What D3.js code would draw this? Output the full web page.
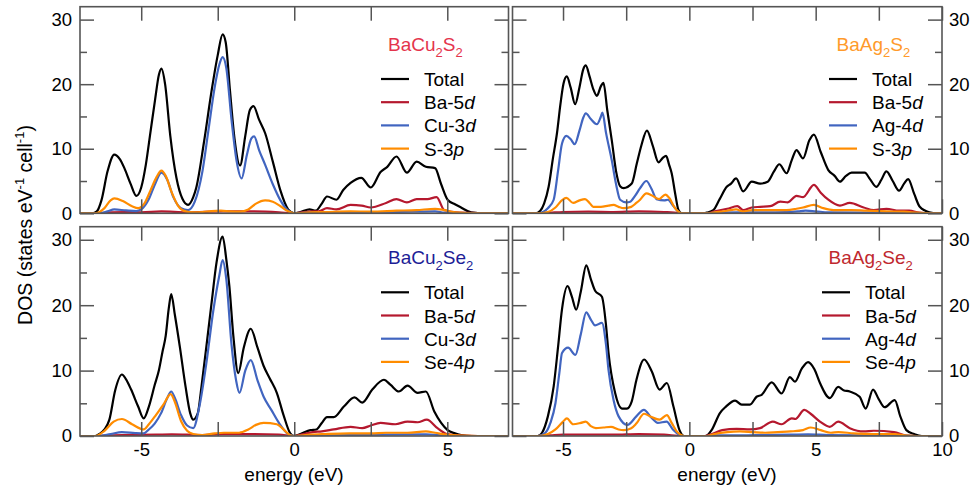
<!DOCTYPE html>
<html><head><meta charset="utf-8">
<script src="https://cdn.jsdelivr.net/npm/d3@7"></script>
<style>
html,body{margin:0;padding:0;background:#fff;}
text{font-family:"Liberation Sans",Arial,Helvetica,sans-serif;}
</style></head>
<body><svg id="chart" width="974" height="488"></svg>
<script>
// ---------- data (energy eV, DOS states/eV/cell) ----------
const seriesNames = ["Total","Ba-5d","TM-d","X-p"];
const seriesColors = ["#000000","#b5182e","#4165c0","#ff8c00"];
const panelTitles = ["BaCu2S2","BaAg2S2","BaCu2Se2","BaAg2Se2"];
const titleColors = ["#e4344c","#ff9a2a","#1d1d96","#c0282e"];
const legendLabels = [
  ["Total","Ba-5","Cu-3","S-3"],
  ["Total","Ba-5","Ag-4","S-3"],
  ["Total","Ba-5","Cu-3","Se-4"],
  ["Total","Ba-5","Ag-4","Se-4"]];
const legendItalics = ["","d","d","p"];
const xTicksLeft = [-5,-2.5,0,2.5,5];
const xTicksRight = [-5,-2.5,0,2.5,5,7.5,10];
const yMajor = [0,10,20,30];
const yMinor = [5,15,25];

// BaCu2S2
const cuS_total = [[-7,0],[-6.6,0],[-6.45,0.3],[-6.3,2.0],[-6.1,6.5],[-5.88,9.1],[-5.7,8.4],[-5.55,7.0],[-5.35,4.6],[-5.16,2.7],[-5.0,4.0],[-4.85,7.5],[-4.7,12.5],[-4.55,17.5],[-4.42,21.5],[-4.34,22.4],[-4.22,20],[-4.05,12],[-3.85,5.5],[-3.65,2.2],[-3.47,1.3],[-3.3,2.5],[-3.2,4],[-2.95,11],[-2.7,19],[-2.5,24.5],[-2.34,27.7],[-2.24,26.5],[-2.1,19],[-1.95,11.5],[-1.77,7.4],[-1.6,12],[-1.45,16],[-1.33,16.6],[-1.15,14.5],[-0.95,12.4],[-0.7,8],[-0.45,3.5],[-0.2,0.6],[0,0],[0.2,0.2],[0.5,0.6],[0.7,0.4],[0.9,1.5],[1.07,2.6],[1.38,2.1],[1.6,3.6],[1.84,4.7],[2.19,5.5],[2.5,4.0],[2.82,6.4],[3.04,7.2],[3.34,8.8],[3.68,6.3],[4.0,8.0],[4.3,7.2],[4.6,7.0],[4.8,4.5],[5.01,2.1],[5.25,1.4],[5.45,0.9],[5.78,0.15],[6.2,0],[7,0]];
const cuS_ba = [[-7,0],[-6.4,0],[-6.0,0.15],[-5.5,0.2],[-5.0,0.15],[-4.34,0.3],[-3.5,0.15],[-2.34,0.3],[-1.5,0.3],[-0.5,0.15],[0,0],[0.3,0.2],[0.6,0.3],[0.8,0.3],[1.07,0.8],[1.38,0.6],[1.84,1.3],[2.2,1.2],[2.5,0.9],[3.0,1.6],[3.34,2.2],[3.68,1.7],[4.0,2.2],[4.35,2.2],[4.65,2.5],[4.9,0.5],[5.3,0.15],[6,0.05],[7,0]];
const cuS_tm = [[-7,0],[-6.4,0],[-6.1,0.3],[-5.88,0.6],[-5.5,0.45],[-5.16,0.35],[-4.95,0.8],[-4.75,2.2],[-4.55,4.5],[-4.34,6.3],[-4.15,5.2],[-3.95,2.5],[-3.7,0.8],[-3.47,0.5],[-3.25,1.8],[-3.0,6.5],[-2.8,13],[-2.6,19.5],[-2.45,23],[-2.34,24.2],[-2.22,22.5],[-2.05,14.5],[-1.88,8],[-1.72,5.4],[-1.55,9.0],[-1.4,11.6],[-1.31,11.9],[-1.15,9.8],[-0.95,7.5],[-0.7,4.5],[-0.45,2.0],[-0.2,0.4],[0,0],[0.5,0.1],[1.0,0.15],[2,0.2],[3,0.2],[4.0,0.25],[4.6,0.3],[4.9,0.1],[5.5,0],[7,0]];
const cuS_x = [[-7,0],[-6.5,0],[-6.2,0.8],[-6.0,2.0],[-5.88,2.3],[-5.6,1.9],[-5.3,1.1],[-5.1,0.8],[-4.9,1.5],[-4.7,3.5],[-4.5,5.6],[-4.34,6.6],[-4.2,5.8],[-4.0,3.2],[-3.8,1.2],[-3.55,0.3],[-3.3,0.15],[-3.0,0.2],[-2.7,0.35],[-2.4,0.4],[-2.1,0.3],[-1.77,0.25],[-1.5,0.6],[-1.25,1.5],[-0.95,2.0],[-0.7,1.8],[-0.45,1.1],[-0.2,0.3],[0,0],[0.5,0.15],[1.0,0.2],[1.84,0.3],[2.5,0.25],[3.34,0.4],[4.0,0.5],[4.6,0.7],[4.9,0.5],[5.2,0.2],[5.6,0.05],[6,0],[7,0]];

// BaAg2S2
const agS_total = [[-7,0],[-6.1,0],[-5.9,0.4],[-5.75,1.5],[-5.57,4.1],[-5.4,8.5],[-5.24,12.4],[-5.1,17],[-4.98,20.1],[-4.85,21.2],[-4.7,19.5],[-4.52,16.9],[-4.35,19.5],[-4.2,22.3],[-4.1,22.9],[-3.95,21.2],[-3.8,19.2],[-3.66,18.2],[-3.5,19.7],[-3.4,20.2],[-3.25,16],[-3.07,11.3],[-2.9,6.5],[-2.74,4.2],[-2.6,3.9],[-2.28,4.6],[-2.08,7.7],[-1.9,10.5],[-1.68,12.8],[-1.45,10.5],[-1.22,7.9],[-1.05,8.6],[-0.92,8.9],[-0.8,7.5],[-0.7,6.2],[-0.55,2.8],[-0.43,0.5],[-0.3,0],[0.6,0],[0.69,0.1],[0.95,0.5],[1.2,2.2],[1.48,4.1],[1.65,4.6],[1.85,5.4],[2.13,3.4],[2.47,4.9],[2.8,4.6],[3.1,4.9],[3.35,6.5],[3.56,7.6],[3.85,6.2],[4.05,8.2],[4.24,9.8],[4.5,8.5],[4.75,11.3],[4.93,12.2],[5.2,9.5],[5.5,6.7],[5.75,5.8],[5.96,4.9],[6.2,5.8],[6.42,6.3],[6.94,6.3],[7.15,5.3],[7.4,4.1],[7.6,5.2],[7.8,6.5],[8.05,5.0],[8.3,3.5],[8.5,4.6],[8.66,5.3],[8.9,3.0],[9.12,1.0],[9.5,0.15],[9.8,0],[10,0]];
const agS_ba = [[-7,0],[-6,0],[-5.5,0.1],[-5,0.2],[-4,0.25],[-3,0.2],[-2,0.3],[-1,0.2],[-0.4,0.05],[-0.3,0],[0.7,0],[1.0,0.3],[1.5,0.7],[1.9,1.1],[2.13,0.5],[2.47,0.9],[2.8,1.0],[3.2,1.1],[3.6,1.8],[3.9,1.7],[4.24,2.7],[4.5,2.5],[4.93,4.4],[5.2,3.2],[5.5,2.1],[5.96,1.2],[6.35,1.6],[6.9,0.9],[7.3,0.5],[7.8,0.7],[8.3,0.4],[8.7,0.4],[9.1,0.1],[9.5,0],[10,0]];
const agS_tm = [[-7,0],[-6.0,0],[-5.8,0.2],[-5.6,0.8],[-5.37,2.1],[-5.2,6.5],[-5.04,10.8],[-4.87,12.0],[-4.7,11.5],[-4.54,10.7],[-4.35,12.8],[-4.2,14.8],[-4.1,15.5],[-3.9,14.6],[-3.66,13.8],[-3.5,15.0],[-3.44,15.6],[-3.3,12.5],[-3.07,8.2],[-2.9,4.5],[-2.74,2.1],[-2.5,1.7],[-2.34,1.8],[-2.15,2.7],[-1.95,3.9],[-1.7,5.0],[-1.5,3.8],[-1.3,2.2],[-1.0,2.0],[-0.85,2.1],[-0.65,1.2],[-0.45,0.3],[-0.3,0],[0.7,0],[1.0,0.1],[2,0.15],[3,0.15],[3.8,0.2],[4.3,0.3],[4.6,0.4],[5.0,0.3],[5.5,0.15],[7,0.1],[8.5,0.05],[9.2,0],[10,0]];
const agS_x = [[-7,0],[-6.0,0],[-5.6,0.2],[-5.3,0.9],[-5.05,2.0],[-4.87,2.4],[-4.6,1.6],[-4.35,2.0],[-4.13,2.2],[-3.95,1.6],[-3.8,1.0],[-3.5,1.0],[-3.2,1.2],[-3.0,1.3],[-2.8,1.0],[-2.6,0.8],[-2.3,1.0],[-2.1,1.6],[-1.95,2.1],[-1.7,3.1],[-1.5,2.8],[-1.2,2.2],[-0.95,2.9],[-0.8,2.4],[-0.6,1.0],[-0.45,0.3],[-0.3,0],[0.7,0],[1.0,0.15],[1.5,0.4],[1.85,0.6],[2.13,0.3],[2.5,0.5],[3.0,0.5],[3.5,0.5],[3.85,0.5],[4.24,0.7],[4.5,0.9],[4.93,1.3],[5.3,0.8],[5.7,0.5],[6.4,0.5],[7,0.4],[7.8,0.3],[8.5,0.25],[9,0.1],[9.5,0],[10,0]];

// BaCu2Se2
const cuSe_total = [[-7,0],[-6.5,0],[-6.37,0.3],[-6.2,1.0],[-6.04,2.5],[-5.85,7.0],[-5.63,9.4],[-5.5,8.7],[-5.33,7.1],[-5.1,4.5],[-4.92,2.7],[-4.75,4.5],[-4.56,7.8],[-4.42,10.1],[-4.3,13],[-4.2,15.3],[-4.1,19.5],[-4.02,21.7],[-3.9,18.5],[-3.74,13.7],[-3.55,7.5],[-3.4,3.5],[-3.3,2.5],[-3.15,3.5],[-3.03,7.6],[-2.85,14.5],[-2.7,20.4],[-2.54,26.5],[-2.34,30.5],[-2.22,27],[-2.12,22.9],[-1.99,15.3],[-1.83,9.6],[-1.65,13.5],[-1.42,16.4],[-1.2,13.5],[-1.0,10.7],[-0.8,8.8],[-0.57,6.6],[-0.35,3.2],[-0.13,0.4],[0,0],[0.2,0.3],[0.53,0.9],[0.72,1.0],[0.9,2.0],[1.07,2.9],[1.29,2.9],[1.62,4.5],[1.97,5.9],[2.22,5.1],[2.55,7.1],[2.93,8.6],[3.15,7.8],[3.42,6.8],[3.7,7.7],[4.03,6.6],[4.3,6.8],[4.58,3.7],[4.8,2.0],[5.01,0.9],[5.25,0.4],[5.45,0.15],[5.8,0],[7,0]];
const cuSe_ba = [[-7,0],[-6.4,0],[-6,0.1],[-5.5,0.15],[-4.5,0.2],[-4,0.25],[-3,0.15],[-2.34,0.3],[-1.5,0.3],[-0.5,0.2],[0,0],[0.3,0.3],[0.6,0.6],[0.9,0.7],[1.29,1.0],[1.84,1.4],[2.22,1.2],[2.5,1.6],[2.82,2.0],[3.3,1.8],[3.7,2.2],[4.03,2.1],[4.33,2.5],[4.68,1.2],[5.0,0.3],[5.5,0.05],[6,0],[7,0]];
const cuSe_tm = [[-7,0],[-6.4,0],[-6.0,0.3],[-5.63,0.6],[-5.2,0.45],[-4.92,0.4],[-4.75,1.0],[-4.56,1.9],[-4.35,3.5],[-4.15,5.8],[-4.02,6.8],[-3.9,5.8],[-3.7,3.2],[-3.5,1.6],[-3.3,1.2],[-3.1,4.5],[-2.87,11.2],[-2.65,19],[-2.45,24.5],[-2.34,26.9],[-2.22,24],[-2.05,14],[-1.9,8.5],[-1.79,6.6],[-1.6,10],[-1.42,11.6],[-1.2,8.5],[-1.0,6.0],[-0.75,4.0],[-0.5,2.0],[-0.2,0.3],[0,0],[1,0.1],[2,0.15],[3,0.2],[4.3,0.25],[4.7,0.15],[5.2,0],[7,0]];
const cuSe_x = [[-7,0],[-6.5,0],[-6.2,0.8],[-5.9,2.2],[-5.63,2.6],[-5.3,1.8],[-4.92,1.0],[-4.75,1.8],[-4.52,3.2],[-4.25,5.0],[-4.04,6.4],[-3.9,5.2],[-3.7,2.3],[-3.5,0.8],[-3.3,0.3],[-3.0,0.15],[-2.6,0.4],[-2.3,0.5],[-1.8,0.5],[-1.5,1.0],[-1.25,1.7],[-1.0,2.0],[-0.57,1.8],[-0.35,1.0],[-0.13,0.1],[0,0],[0.5,0.2],[1.0,0.3],[1.8,0.4],[2.5,0.4],[3.0,0.5],[3.7,0.5],[4.3,0.7],[4.6,0.5],[5.0,0.2],[5.5,0.05],[6,0],[7,0]];

// BaAg2Se2
const agSe_total = [[-7,0],[-6.0,0],[-5.83,0.5],[-5.6,3.0],[-5.37,7.6],[-5.2,13.5],[-5.04,19.4],[-4.82,22.9],[-4.65,21.3],[-4.48,19.3],[-4.3,22],[-4.08,26.1],[-3.9,24],[-3.73,22.2],[-3.46,21.3],[-3.3,17],[-3.2,12.7],[-2.94,6.6],[-2.67,4.2],[-2.47,4.2],[-2.28,5.3],[-2.1,8.5],[-1.79,11.7],[-1.49,9.9],[-1.18,7.1],[-0.89,8.1],[-0.63,4.5],[-0.39,0.9],[-0.2,0],[0.65,0],[0.88,0.9],[1.21,3.5],[1.45,4.5],[1.81,5.4],[2.07,4.8],[2.4,4.8],[2.66,6.0],[2.86,6.3],[3.26,8.2],[3.65,6.5],[3.98,9.0],[4.18,8.3],[4.45,10.3],[4.7,11.3],[4.95,10.2],[5.17,8.1],[5.56,5.8],[5.89,7.5],[6.1,7.0],[6.35,6.8],[6.74,6.0],[6.98,4.2],[7.27,7.1],[7.5,5.6],[7.73,4.4],[8.13,5.5],[8.35,3.0],[8.59,0.9],[8.9,0.3],[9.2,0],[10,0]];
const agSe_ba = [[-7,0],[-6,0],[-5.5,0.1],[-5,0.2],[-4,0.2],[-3,0.2],[-2,0.3],[-1,0.2],[-0.3,0],[0.6,0],[0.9,0.3],[1.3,0.9],[1.87,1.1],[2.4,1.0],[2.8,1.2],[3.3,2.2],[3.65,1.8],[4.05,2.7],[4.2,2.6],[4.55,4.0],[4.8,3.4],[5.17,2.2],[5.56,1.4],[5.89,2.2],[6.35,1.2],[6.9,0.7],[7.3,0.8],[8.1,0.6],[8.6,0.05],[9,0],[10,0]];
const agSe_tm = [[-7,0],[-6.0,0],[-5.7,0.5],[-5.5,2.0],[-5.3,5.0],[-5.15,9.5],[-5.04,12.7],[-4.8,13.5],[-4.51,12.4],[-4.3,15.5],[-4.08,18.9],[-3.9,17.8],[-3.73,16.9],[-3.46,17.3],[-3.3,14],[-3.2,10.1],[-3.0,5.5],[-2.8,3.0],[-2.45,1.7],[-2.1,3.0],[-1.8,4.0],[-1.5,2.8],[-1.25,2.0],[-0.9,2.2],[-0.65,1.0],[-0.4,0.2],[-0.2,0],[0.7,0],[1,0.1],[2,0.1],[3,0.15],[4,0.2],[4.7,0.25],[5.5,0.15],[7,0.1],[8.5,0.05],[9,0],[10,0]];
const agSe_x = [[-7,0],[-6.0,0],[-5.6,0.3],[-5.3,1.0],[-5.0,2.2],[-4.85,2.7],[-4.6,1.8],[-4.3,2.0],[-4.1,2.2],[-3.9,1.5],[-3.7,1.2],[-3.4,1.3],[-3.1,1.4],[-2.8,1.0],[-2.6,0.9],[-2.3,1.2],[-2.1,1.9],[-1.79,3.4],[-1.5,2.9],[-1.18,2.5],[-0.89,3.2],[-0.7,2.0],[-0.5,0.7],[-0.3,0.1],[-0.2,0],[0.7,0],[1.0,0.3],[1.5,0.6],[2.0,0.7],[2.5,0.6],[3.0,0.5],[3.5,0.6],[4.0,0.7],[4.5,0.9],[4.8,1.3],[5.2,0.9],[5.6,0.5],[5.9,0.6],[6.5,0.4],[7.3,0.3],[8.1,0.3],[8.6,0.05],[9,0],[10,0]];

const panelSeries = [
  [cuS_total, cuS_ba, cuS_tm, cuS_x],
  [agS_total, agS_ba, agS_tm, agS_x],
  [cuSe_total, cuSe_ba, cuSe_tm, cuSe_x],
  [agSe_total, agSe_ba, agSe_tm, agSe_x]];

// ---------- layout ----------
const svg = d3.select("#chart");
const frameColor = "#555";
const colBox = [{x0:80, x1:508.5, dom:[-7,7], ticks:xTicksLeft},
                {x0:512.5, x1:942, dom:[-7,10], ticks:xTicksRight}];
const rowBox = [{y0:6.7, y1:213.3}, {y0:226.7, y1:436}];
const legendPos = [
  {lx:381, tx:424, ty:51.3, tX:388, ly:79},
  {lx:829, tx:872, ty:50.7, tX:836.5, ly:79},
  {lx:381, tx:424, ty:264.3, tX:388, ly:292.3},
  {lx:822, tx:865, ty:264.3, tX:828.5, ly:292.3}];
const fs = 18.5;

panelSeries.forEach((series, p) => {
  const col = p % 2, row = Math.floor(p / 2);
  const cb = colBox[col], rb = rowBox[row];
  const x = d3.scaleLinear().domain(cb.dom).range([cb.x0, cb.x1]);
  const y = d3.scaleLinear().domain([0, 32]).range([rb.y1, rb.y0]);
  const g = svg.append("g");
  const clipId = "clip" + p;
  svg.append("clipPath").attr("id", clipId).append("rect")
    .attr("x", cb.x0).attr("y", rb.y0).attr("width", cb.x1 - cb.x0).attr("height", rb.y1 - rb.y0);

  const line = d3.line().x(d => x(d[0])).y(d => y(d[1])).curve(d3.curveMonotoneX);
  const lg = g.append("g").attr("clip-path", `url(#${clipId})`);
  series.forEach((s, i) => {
    lg.append("path").datum(s).attr("d", line).attr("fill", "none")
      .attr("stroke", seriesColors[i]).attr("stroke-width", 2.2)
      .attr("stroke-linejoin", "round");
  });

  // axes (ticks inward)
  const fmtX = v => (row === 1 && v % 5 === 0) ? String(v) : "";
  const ax = [
    g.append("g").attr("transform", `translate(0,${rb.y1})`)
      .call(d3.axisBottom(x).tickValues(cb.ticks).tickSize(-14).tickPadding(7).tickFormat(fmtX)),
    g.append("g").attr("transform", `translate(0,${rb.y0})`)
      .call(d3.axisTop(x).tickValues(cb.ticks).tickSize(-14).tickFormat("")),
    g.append("g").attr("transform", `translate(${cb.x0},0)`)
      .call(d3.axisLeft(y).tickValues(yMajor).tickSize(-14).tickPadding(8).tickFormat(col === 0 ? (v => String(v)) : "")),
    g.append("g").attr("transform", `translate(${cb.x0},0)`)
      .call(d3.axisLeft(y).tickValues(yMinor).tickSize(-7).tickFormat("")),
    g.append("g").attr("transform", `translate(${cb.x1},0)`)
      .call(d3.axisRight(y).tickValues(yMajor).tickSize(-14).tickPadding(7).tickFormat(col === 1 ? (v => String(v)) : "")),
    g.append("g").attr("transform", `translate(${cb.x1},0)`)
      .call(d3.axisRight(y).tickValues(yMinor).tickSize(-7).tickFormat(""))
  ];
  ax.forEach(a => {
    a.select(".domain").remove();
    a.selectAll(".tick line").attr("stroke", frameColor).attr("stroke-width", 1.5);
    a.selectAll(".tick text").attr("font-size", fs).attr("fill", "#000")
      .attr("font-family", '"Liberation Sans",Arial,sans-serif');
  });

  g.append("rect").attr("x", cb.x0).attr("y", rb.y0)
    .attr("width", cb.x1 - cb.x0).attr("height", rb.y1 - rb.y0)
    .attr("fill", "none").attr("stroke", frameColor).attr("stroke-width", 1.6);

  // title with subscripts
  const lp = legendPos[p];
  const t = g.append("text").attr("x", lp.tX).attr("y", lp.ty)
    .attr("font-size", 19).attr("fill", titleColors[p]);
  const parts = panelTitles[p].match(/[A-Za-z]+|\d+/g);
  parts.forEach(part => {
    if (/\d/.test(part)) {
      t.append("tspan").attr("font-size", 13).attr("dy", 6).text(part);
    } else {
      const ts = t.append("tspan").text(part);
      if (t.selectAll("tspan").size() > 1) ts.attr("dy", -6);
    }
  });

  // legend
  legendLabels[p].forEach((lab, i) => {
    const yy = lp.ly + i * 23.2;
    g.append("line").attr("x1", lp.lx).attr("x2", lp.lx + 28)
      .attr("y1", yy).attr("y2", yy)
      .attr("stroke", seriesColors[i]).attr("stroke-width", 2.2);
    const tt = g.append("text").attr("x", lp.tx).attr("y", yy)
      .attr("dominant-baseline", "central").attr("font-size", 19).attr("fill", "#000");
    tt.append("tspan").text(lab);
    if (legendItalics[i]) tt.append("tspan").attr("font-style", "italic").text(legendItalics[i]);
  });
});

// axis titles
svg.append("text").attr("x", 294).attr("y", 481).attr("text-anchor", "middle")
  .attr("font-size", 19).text("energy (eV)");
svg.append("text").attr("x", 727).attr("y", 481).attr("text-anchor", "middle")
  .attr("font-size", 19).text("energy (eV)");
const yl = svg.append("text").attr("transform", "translate(32,225) rotate(-90)")
  .attr("text-anchor", "middle").attr("font-size", 19.5);
yl.append("tspan").text("DOS (states eV");
yl.append("tspan").attr("font-size", 13).attr("dy", -8).text("-1");
yl.append("tspan").attr("dy", 8).text(" cell");
yl.append("tspan").attr("font-size", 13).attr("dy", -8).text("-1");
yl.append("tspan").attr("dy", 8).text(")");
</script></body></html>
